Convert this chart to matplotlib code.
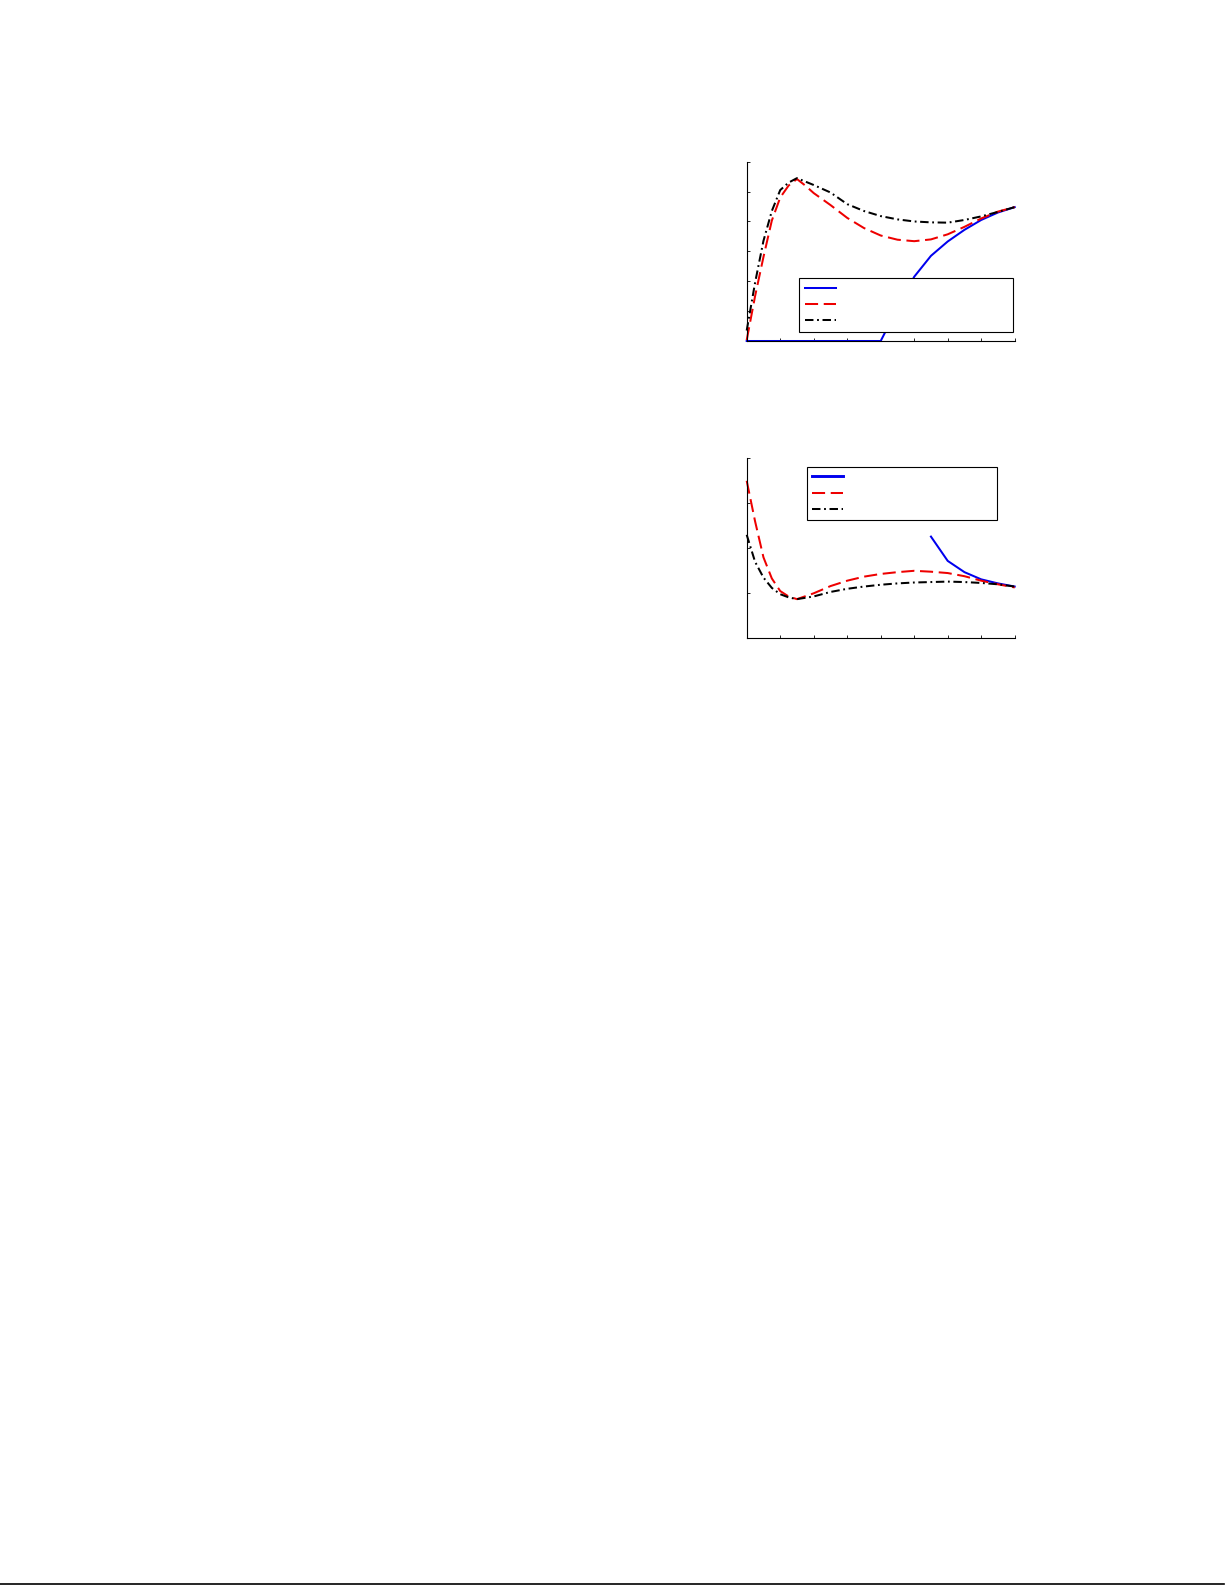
import matplotlib
matplotlib.use("Agg")
import matplotlib.pyplot as plt
from matplotlib.lines import Line2D

# ---- data: top panel ----
top_x_blue = [0, 0.5, 1.0, 1.5, 2.0, 2.5, 3.0, 3.5, 4.0, 4.5, 5.0, 5.5, 6.0, 6.5, 7.0, 7.5, 8.0]
top_y_blue = [0, 0, 0, 0, 0, 0, 0, 0, 0, 1.1, 2.15, 2.85, 3.33, 3.72, 4.05, 4.3, 4.48]

top_x_red = [0, 0.25, 0.5, 0.75, 1.0, 1.25, 1.5, 1.75, 2.0, 2.5, 3.0, 3.5, 4.0, 4.5, 5.0, 5.5, 6.0, 6.5, 7.0, 7.5, 8.0]
top_y_red = [0.03, 1.5, 2.81, 4.03, 4.8, 5.2, 5.42, 5.2, 4.95, 4.55, 4.12, 3.78, 3.53, 3.39, 3.34, 3.4, 3.57, 3.82, 4.1, 4.33, 4.48]

top_x_black = [0, 0.25, 0.5, 0.75, 1.0, 1.25, 1.5, 2.0, 2.5, 3.0, 3.5, 4.0, 4.5, 5.0, 5.5, 6.0, 6.5, 7.0, 7.5, 8.0]
top_y_black = [0.35, 1.95, 3.35, 4.35, 5.05, 5.3, 5.45, 5.22, 4.97, 4.58, 4.35, 4.18, 4.07, 4.0, 3.97, 3.96, 4.05, 4.17, 4.32, 4.48]

# ---- data: bottom panel ----
bot_x_blue = [5.5, 6.0, 6.5, 7.0, 7.5, 8.0]
bot_y_blue = [2.26, 1.72, 1.47, 1.31, 1.22, 1.15]

bot_x_red = [0, 0.25, 0.5, 0.75, 1.0, 1.25, 1.5, 2.0, 2.5, 3.0, 3.5, 4.0, 4.5, 5.0, 5.5, 6.0, 6.5, 7.0, 7.5, 8.0]
bot_y_red = [3.5, 2.6, 1.8, 1.33, 1.05, 0.93, 0.87, 1.0, 1.16, 1.28, 1.37, 1.43, 1.47, 1.5, 1.48, 1.45, 1.38, 1.28, 1.2, 1.13]

bot_x_black = [0, 0.25, 0.5, 0.75, 1.0, 1.25, 1.5, 2.0, 2.5, 3.0, 3.5, 4.0, 4.5, 5.0, 5.5, 6.0, 6.5, 7.0, 7.5, 8.0]
bot_y_black = [2.3, 1.7, 1.35, 1.12, 0.98, 0.91, 0.87, 0.93, 1.03, 1.1, 1.15, 1.19, 1.22, 1.24, 1.25, 1.26, 1.25, 1.23, 1.2, 1.15]

x_ticks = [0, 1, 2, 3, 4, 5, 6, 7, 8]
top_y_ticks = [0, 1, 2, 3, 4, 5, 6]
bot_y_ticks = [0, 1, 2, 3, 4]
legend_labels = ["", "", ""]

W, H = 1225, 1585
fig = plt.figure(figsize=(W / 100, H / 100), dpi=100)

BLUE = "#0000ee"
RED = "#ee0000"
DASH = (0, (6.5, 2.8))
DASHDOT = (0, (4.2, 1.8, 0.9, 1.8))
LW = 1.45


def style_axes(ax, yticks):
    for s in ("top", "right"):
        ax.spines[s].set_visible(False)
    for s in ("left", "bottom"):
        ax.spines[s].set_linewidth(0.8)
    ax.set_xlim(0, 8)
    ax.set_ylim(yticks[0], yticks[-1])
    ax.set_xticks(x_ticks)
    ax.set_yticks(yticks)
    ax.set_xticklabels([])
    ax.set_yticklabels([])
    ax.tick_params(direction="in", length=2.5, width=0.6)


LEG_KW = dict(borderaxespad=0, fontsize=8, handlelength=2.8, labelspacing=0.55,
              borderpad=0.5, fancybox=False, framealpha=1, edgecolor="black",
              mode="expand")

# top panel
ax1 = fig.add_axes([746.7 / W, 1 - 341 / H, 268 / W, 179.3 / H])
style_axes(ax1, top_y_ticks)
h1, = ax1.plot(top_x_blue, top_y_blue, color=BLUE, lw=LW, clip_on=False)
h2, = ax1.plot(top_x_red, top_y_red, color=RED, lw=LW, linestyle=DASH, clip_on=False)
h3, = ax1.plot(top_x_black, top_y_black, color="black", lw=LW, linestyle=DASHDOT, clip_on=False)
leg1 = ax1.legend([h1, h2, h3], legend_labels, loc="lower left",
                  bbox_to_anchor=(0.196, 0.052, 0.799, 0.298), **LEG_KW)
leg1.get_frame().set_linewidth(0.8)
leg1.set_zorder(5)

# bottom panel
ax2 = fig.add_axes([746.7 / W, 1 - 638.3 / H, 268 / W, 180 / H])
style_axes(ax2, bot_y_ticks)
g1, = ax2.plot(bot_x_blue, bot_y_blue, color=BLUE, lw=LW, clip_on=False)
g2, = ax2.plot(bot_x_red, bot_y_red, color=RED, lw=LW, linestyle=DASH, clip_on=False)
g3, = ax2.plot(bot_x_black, bot_y_black, color="black", lw=LW, linestyle=DASHDOT, clip_on=False)
leg2 = ax2.legend([g1, g2, g3], legend_labels, loc="upper left",
                  bbox_to_anchor=(0.224, 0.663, 0.711, 0.29), **LEG_KW)
leg2.get_frame().set_linewidth(0.8)
leg2.get_lines()[0].set_linewidth(2.1)

# thin rule along the bottom edge of the page
fig.add_artist(Line2D([0, 1224 / W], [1.5 / H, 1.5 / H], color="black", lw=1.2,
                      transform=fig.transFigure))

fig.savefig("out.png", dpi=100)
